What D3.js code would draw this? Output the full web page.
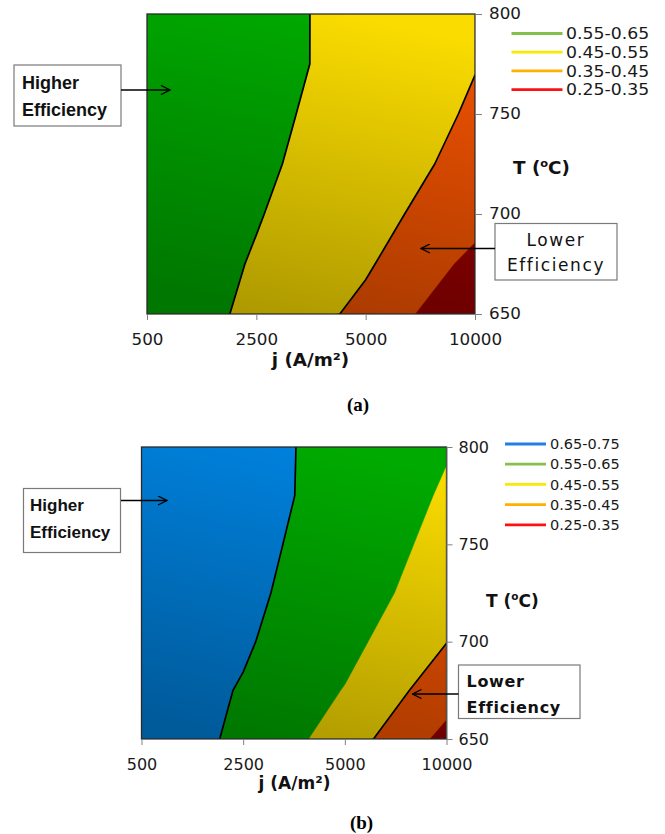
<!DOCTYPE html>
<html>
<head>
<meta charset="utf-8">
<script src="https://cdn.jsdelivr.net/npm/d3@7"></script>
<style>
  body { margin: 0; background: #fff; }
  svg { display: block; }
</style>
</head>
<body>
<svg id="chart" width="665" height="834"></svg>
<script>
// ---- data ---------------------------------------------------------------
// current density categories (A/m²) along the x axis
const currentDensity = [500, 2500, 5000, 10000];
// temperature rows (°C) of the efficiency grids
const temperatures = [650, 675, 700, 725, 750, 775, 800];
// labelled temperature ticks
const tempTicks = [650, 700, 750, 800];

// efficiency, case (a): one row per temperature (650 → 800), one column per j
const efficiencyA = [
  [0.600, 0.534, 0.424, 0.260],
  [0.610, 0.543, 0.462, 0.323],
  [0.610, 0.555, 0.486, 0.385],
  [0.615, 0.570, 0.486, 0.429],
  [0.620, 0.585, 0.489, 0.443],
  [0.625, 0.595, 0.503, 0.452],
  [0.630, 0.600, 0.498, 0.470]
];
// efficiency, case (b)
const efficiencyB = [
  [0.690, 0.638, 0.501, 0.320],
  [0.704, 0.644, 0.546, 0.395],
  [0.712, 0.660, 0.579, 0.452],
  [0.716, 0.665, 0.610, 0.487],
  [0.720, 0.675, 0.611, 0.521],
  [0.724, 0.685, 0.616, 0.540],
  [0.728, 0.690, 0.613, 0.556]
];

// efficiency bands: lower bounds and their legend labels
const bandLowsA = [0.55, 0.45, 0.35, 0.25];
const bandLabelsA = ["0.55-0.65", "0.45-0.55", "0.35-0.45", "0.25-0.35"];
const bandLowsB = [0.65, 0.55, 0.45, 0.35, 0.25];
const bandLabelsB = ["0.65-0.75", "0.55-0.65", "0.45-0.55", "0.35-0.45", "0.25-0.35"];

// ---- styles -------------------------------------------------------------
const fillColor = { 0.65: "#0082de", 0.55: "#00aa00", 0.45: "#fadc00", 0.35: "#f05200", 0.25: "#960000" };
const legendColor = { 0.65: "#1f80e0", 0.55: "#86c04c", 0.45: "#fbe900", 0.35: "#ffb000", 0.25: "#ff1010" };
const SANS = "'DejaVu Sans', Verdana, sans-serif";
const ARIAL = "'Liberation Sans', Arial, sans-serif";

const svg = d3.select("#chart");
const defs = svg.append("defs");

defs.append("marker")
  .attr("id", "arrowhead")
  .attr("viewBox", "-1 -5 11 10")
  .attr("refX", 9).attr("refY", 0)
  .attr("markerWidth", 11).attr("markerHeight", 10)
  .attr("markerUnits", "userSpaceOnUse")
  .attr("orient", "auto")
  .append("path")
  .attr("d", "M0,-4.5L9,0L0,4.5")
  .attr("fill", "none").attr("stroke", "#000").attr("stroke-width", 1.3);

// text helper with an optional horizontal stretch
function label(g, x, y, str, o) {
  const t = g.append("text")
    .attr("transform", `translate(${x},${y}) scale(${o.sx || 1},1)`)
    .attr("font-family", o.family || SANS)
    .attr("font-size", o.size)
    .attr("font-weight", o.weight || "normal")
    .attr("text-anchor", o.anchor || "start")
    .attr("letter-spacing", o.spacing || 0)
    .attr("fill", o.color || "#111")
    .text(str);
  return t;
}

function drawPanel(p) {
  const g = svg.append("g");
  const nx = currentDensity.length, ny = temperatures.length;

  const x = d3.scalePoint().domain(currentDensity).range([p.left, p.right]);
  const y = d3.scaleLinear().domain(d3.extent(tempTicks)).range([p.bottom, p.top]);

  // contour grid coordinates: sample i sits at i + 0.5
  const colToX = d3.scaleLinear().domain([0.5, nx - 0.5])
    .range([x(currentDensity[0]), x(currentDensity[nx - 1])]);
  const rowToT = d3.scaleLinear().domain([0.5, ny - 0.5])
    .range([temperatures[0], temperatures[ny - 1]]);
  const path = d3.geoPath(d3.geoTransform({
    point(px, py) { this.stream.point(colToX(px), y(rowToT(py))); }
  }));

  const flat = p.values.flat();
  const contours = d3.contours().size([nx, ny]);

  const clipId = p.id + "-clip";
  defs.append("clipPath").attr("id", clipId)
    .append("rect")
    .attr("x", p.left).attr("y", p.top)
    .attr("width", p.right - p.left).attr("height", p.bottom - p.top);

  // shading from the light top to the darker lower left
  const grad = defs.append("linearGradient").attr("id", p.id + "-shade")
    .attr("x1", 0.62).attr("y1", 0).attr("x2", 0.38).attr("y2", 1);
  grad.append("stop").attr("offset", 0).attr("stop-color", "#000").attr("stop-opacity", 0);
  grad.append("stop").attr("offset", 1).attr("stop-color", "#000").attr("stop-opacity", 0.3);

  const plot = g.append("g").attr("clip-path", `url(#${clipId})`);

  // filled bands, lowest first
  [...p.bandLows].sort((a, b) => a - b).forEach(lo => {
    plot.append("path")
      .attr("d", path(contours.contour(flat, lo)))
      .attr("fill", fillColor[lo])
      .attr("stroke", fillColor[lo]).attr("stroke-width", 0.5);
  });

  plot.append("rect")
    .attr("x", p.left).attr("y", p.top)
    .attr("width", p.right - p.left).attr("height", p.bottom - p.top)
    .attr("fill", `url(#${p.id}-shade)`);

  // outlined iso-efficiency lines
  p.outlines.forEach(t => {
    plot.append("path")
      .attr("d", path(contours.contour(flat, t)))
      .attr("fill", "none")
      .attr("stroke", "#000").attr("stroke-width", 1.7)
      .attr("stroke-linejoin", "round");
  });

  g.append("rect")
    .attr("x", p.left).attr("y", p.top)
    .attr("width", p.right - p.left).attr("height", p.bottom - p.top)
    .attr("fill", "none").attr("stroke", "#2a2a2a").attr("stroke-width", 1.3);

  // axes
  const styleAxis = (sel, size) => {
    sel.select(".domain").attr("stroke", "#808080");
    sel.selectAll(".tick line").attr("stroke", "#808080");
    sel.selectAll(".tick text")
      .attr("font-family", SANS).attr("font-size", size).attr("fill", "#1a1a1a")
      .attr("transform", `scale(${p.sx},1)`);
  };

  g.append("g")
    .attr("transform", `translate(${p.right},0)`)
    .call(d3.axisRight(y).tickValues(tempTicks).tickSize(p.yTick).tickSizeOuter(0).tickPadding(p.yPad))
    .call(sel => styleAxis(sel, p.tickSize));

  g.append("g")
    .attr("transform", `translate(0,${p.bottom})`)
    .call(d3.axisBottom(x).tickSize(6).tickSizeOuter(0).tickPadding(p.xPad))
    .call(sel => styleAxis(sel, p.tickSize));

  // axis titles
  const tt = label(g, p.tTitle[0], p.tTitle[1], "T (", { size: 17, weight: "bold", sx: p.sx });
  tt.append("tspan").attr("font-size", 10.5).attr("dy", -7).text("o");
  tt.append("tspan").attr("dy", 7).text("C)");
  label(g, p.jTitle[0], p.jTitle[1], "j (A/m²)", { size: 17, weight: "bold", anchor: "middle", sx: p.sx });

  // legend
  p.bandLows.forEach((lo, i) => {
    const ly = p.legend.y + i * p.legend.dy;
    g.append("line")
      .attr("x1", p.legend.x1).attr("x2", p.legend.x2)
      .attr("y1", ly).attr("y2", ly)
      .attr("stroke", legendColor[lo]).attr("stroke-width", 2.8);
    label(g, p.legend.tx, ly + p.legend.size * 0.36, p.bandLabels[i],
      { size: p.legend.size, sx: p.legend.sx, color: "#1a1a1a" });
  });

  // annotation boxes with arrows
  p.boxes.forEach(b => {
    g.append("rect")
      .attr("x", b.x).attr("y", b.y).attr("width", b.w).attr("height", b.h)
      .attr("fill", "#fff").attr("stroke", "#7a7a7a").attr("stroke-width", 1.2);
    b.lines.forEach((ln, i) => {
      label(g, b.tx, b.ty + i * b.lh, ln, b.font);
    });
    g.append("line")
      .attr("x1", b.arrow[0]).attr("y1", b.arrow[1])
      .attr("x2", b.arrow[2]).attr("y2", b.arrow[1])
      .attr("stroke", "#000").attr("stroke-width", 1.3)
      .attr("marker-end", "url(#arrowhead)");
  });

  label(g, p.caption[0], p.caption[1], p.captionText,
    { family: "'Liberation Serif', 'Times New Roman', serif", size: 19, weight: "bold", anchor: "middle", color: "#000" });
}

drawPanel({
  id: "pa", values: efficiencyA, bandLows: bandLowsA, bandLabels: bandLabelsA,
  outlines: [0.55, 0.45],
  left: 147, right: 475, top: 14, bottom: 314,
  sx: 1.08, tickSize: 15.5, yTick: 7, yPad: 6, xPad: 14,
  tTitle: [513, 173.5], jTitle: [310.5, 365.5],
  legend: { x1: 511.5, x2: 562.5, y: 33.5, dy: 18.7, tx: 566, size: 16, sx: 1.08 },
  boxes: [
    { x: 14, y: 65, w: 107, h: 61, tx: 22, ty: 89, lh: 26.5, lines: ["Higher", "Efficiency"],
      font: { family: ARIAL, size: 18, weight: "bold" }, arrow: [121, 90, 170] },
    { x: 495, y: 223.5, w: 122, h: 56.5, tx: 556, ty: 245.5, lh: 25.5, lines: ["Lower", "Efficiency"],
      font: { size: 17, anchor: "middle", spacing: 1.6 }, arrow: [495, 248.5, 421] }
  ],
  caption: [358, 411], captionText: "(a)"
});

drawPanel({
  id: "pb", values: efficiencyB, bandLows: bandLowsB, bandLabels: bandLabelsB,
  outlines: [0.65, 0.45],
  left: 141.5, right: 446.5, top: 447, bottom: 739,
  sx: 1.0, tickSize: 16, yTick: 6, yPad: 6, xPad: 14,
  tTitle: [486, 607], jTitle: [294.5, 788.5],
  legend: { x1: 505, x2: 546, y: 444, dy: 20.2, tx: 550, size: 14.5, sx: 1.0 },
  boxes: [
    { x: 23.5, y: 488.5, w: 97, h: 64, tx: 30, ty: 511, lh: 26.5, lines: ["Higher", "Efficiency"],
      font: { family: ARIAL, size: 17, weight: "bold" }, arrow: [121, 500.5, 167] },
    { x: 458.5, y: 665, w: 121.5, h: 53.5, tx: 466.5, ty: 686.5, lh: 26, lines: ["Lower", "Efficiency"],
      font: { size: 16, weight: "bold", spacing: 0.7 }, arrow: [458.5, 694, 412.5] }
  ],
  caption: [361.5, 829], captionText: "(b)"
});
</script>
</body>
</html>
